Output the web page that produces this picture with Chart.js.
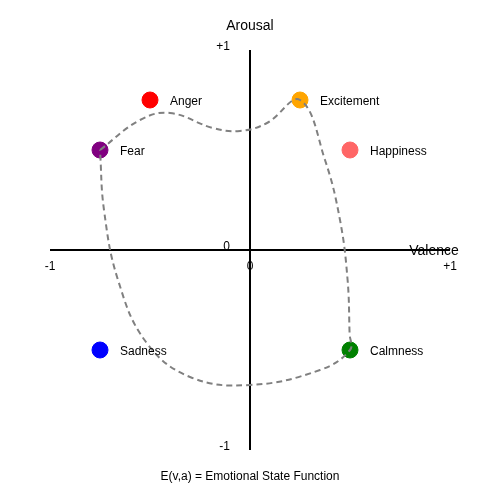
<!DOCTYPE html>
<html>
<head>
<meta charset="utf-8">
<script src="https://cdn.jsdelivr.net/npm/chart.js@4"></script>
<style>
html,body{margin:0;padding:0;background:#fff;}
#wrap{width:500px;height:500px;}
</style>
</head>
<body>
<div id="wrap"><canvas id="c" width="500" height="500"></canvas></div>
<script>
// Emotion points
const emotions = ['Anger', 'Excitement', 'Fear', 'Happiness', 'Sadness', 'Calmness'];
const valence = [-0.5, 0.25, -0.75, 0.5, -0.75, 0.5];
const arousal = [0.75, 0.75, 0.5, 0.5, -0.5, -0.5];
const colors = ['#ff0000', '#ffa500', '#800080', '#ff6666', '#0000ff', '#008000'];

// Dashed trajectory
const pathV = [-0.75, -0.55, -0.4, -0.185, -0.05, 0.085, 0.25, 0.375, 0.45, 0.488, 0.498, 0.5, 0.35, 0, -0.3, -0.52, -0.66, -0.73, -0.75];
const pathA = [0.5, 0.65, 0.685, 0.61, 0.595, 0.635, 0.75, 0.45, 0.15, -0.15, -0.42, -0.5, -0.6, -0.675, -0.635, -0.46, -0.15, 0.2, 0.5];

// Tick labels
const tickValues = [-1, 0, 1];
const xTickLabels = ['-1', '0', '+1'];
const yTickLabels = ['-1', '0', '+1'];

const FONT = "'Liberation Sans', Arial, sans-serif";

const axesPlugin = {
  id: 'axesPlugin',
  beforeDatasetsDraw(chart) {
    const ctx = chart.ctx, xs = chart.scales.x, ys = chart.scales.y;
    const x0 = xs.getPixelForValue(0), y0 = ys.getPixelForValue(0);
    ctx.save();
    ctx.strokeStyle = '#000';
    ctx.lineWidth = 2;
    ctx.beginPath();
    ctx.moveTo(xs.getPixelForValue(-1), y0);
    ctx.lineTo(xs.getPixelForValue(1), y0);
    ctx.moveTo(x0, ys.getPixelForValue(1));
    ctx.lineTo(x0, ys.getPixelForValue(-1));
    ctx.stroke();
    ctx.restore();
  },
  afterDatasetsDraw(chart) {
    const ctx = chart.ctx, xs = chart.scales.x, ys = chart.scales.y;
    const x0 = xs.getPixelForValue(0), y0 = ys.getPixelForValue(0);
    ctx.save();
    ctx.fillStyle = '#000';
    ctx.font = '12px ' + FONT;
    ctx.textAlign = 'center';
    ctx.textBaseline = 'middle';
    tickValues.forEach((v, i) => {
      ctx.fillText(xTickLabels[i], xs.getPixelForValue(v), y0 + 16.5);
    });
    ctx.textAlign = 'right';
    tickValues.forEach((v, i) => {
      ctx.fillText(yTickLabels[i], x0 - 20, ys.getPixelForValue(v) - 3.5);
    });
    // point labels
    ctx.textAlign = 'left';
    const meta = chart.getDatasetMeta(1);
    meta.data.forEach((pt, i) => {
      ctx.fillText(emotions[i], pt.x + 20, pt.y + 1.5);
    });
    // Valence axis title
    ctx.font = '14px ' + FONT;
    ctx.textAlign = 'center';
    ctx.fillText('Valence', xs.getPixelForValue(1) - 16, y0 + 1.5);
    ctx.restore();
  }
};

new Chart(document.getElementById('c'), {
  type: 'scatter',
  data: {
    datasets: [
      {
        label: 'Trajectory',
        type: 'line',
        data: pathV.map((v, i) => ({x: v, y: pathA[i]})),
        borderColor: '#808080',
        borderWidth: 2,
        borderDash: [6, 4],
        pointRadius: 0,
        tension: 0.4,
        fill: false,
        order: 0
      },
      {
        label: 'Emotions',
        data: valence.map((v, i) => ({x: v, y: arousal[i]})),
        backgroundColor: colors,
        borderColor: colors,
        pointRadius: 8,
        pointHoverRadius: 8,
        order: 1
      }
    ]
  },
  options: {
    responsive: false,
    animation: false,
    events: [],
    layout: {padding: {left: 50, right: 50, top: 0, bottom: 0}},
    scales: {
      x: {type: 'linear', min: -1, max: 1, display: false},
      y: {type: 'linear', min: -1, max: 1, display: false}
    },
    plugins: {
      legend: {display: false},
      tooltip: {enabled: false},
      title: {
        display: true,
        text: 'Arousal',
        color: '#000',
        font: {family: FONT, size: 14, weight: 'normal', lineHeight: 1.2},
        padding: {top: 17.5, bottom: 15.7}
      },
      subtitle: {
        display: true,
        position: 'bottom',
        text: 'E(v,a) = Emotional State Function',
        color: '#000',
        font: {family: FONT, size: 12, weight: 'normal', lineHeight: 1.2},
        padding: {top: 19.5, bottom: 16.1}
      }
    }
  },
  plugins: [axesPlugin]
});
</script>
</body>
</html>
